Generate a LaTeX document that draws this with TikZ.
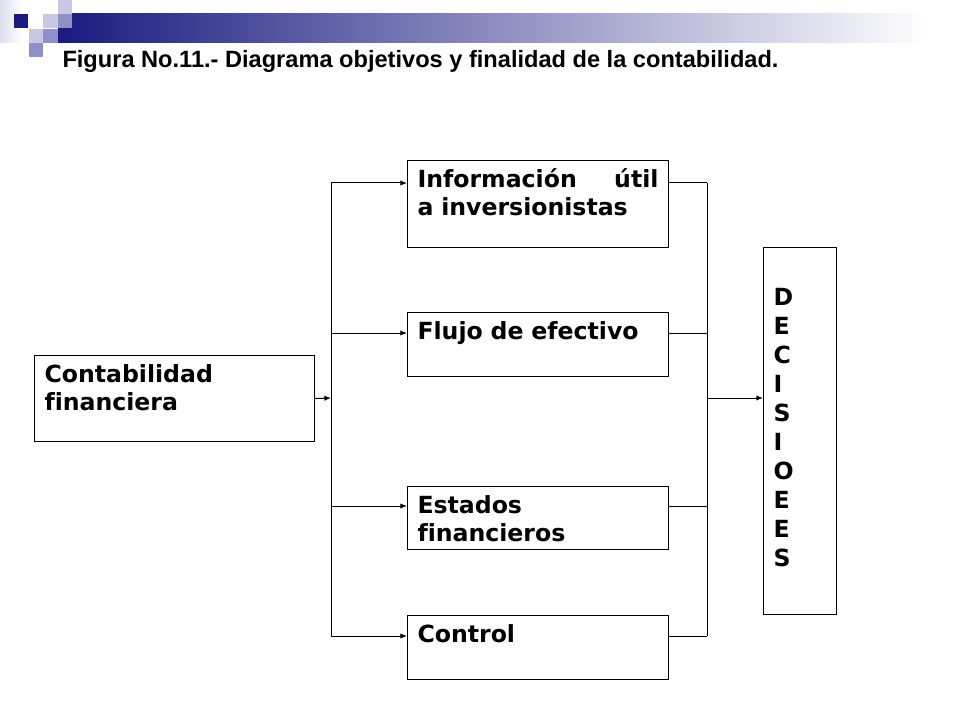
\documentclass[tikz,border=0pt]{standalone}
\usepackage{fontspec}
\usetikzlibrary{arrows.meta}
\newfontfamily\cajafont{DejaVu Sans}[Ligatures=NoCommon]
\newfontfamily\titulofont{Liberation Sans}
\definecolor{marino}{RGB}{26,26,128}
\definecolor{lavanda}{RGB}{200,200,230}
\definecolor{lavmedia}{RGB}{144,144,200}
\definecolor{palido}{RGB}{222,222,240}

\begin{document}
\begin{tikzpicture}[x=0.75pt,y=-0.75pt,line width=0.75pt,
	caja/.style 2 args={draw=black,rectangle,anchor=north west,align=left,text width=#1,text height=12.9pt,text depth=#2,inner xsep=7.5pt,inner ysep=7.5pt,font=\cajafont\bfseries\fontsize{17.7}{20.5}\selectfont},
	flecha/.style={-{Latex[length=5pt,width=4pt]}}]

	\fill[white] (0,0) rectangle (960,720);
	\useasboundingbox (0,0) rectangle (960,720);

	% cuadros de la esquina
	\shade[left color=palido,right color=white] (0,0) rectangle (22,43);
	\shade[left color=marino,right color=white] (58,14) rectangle (930,43);
	\fill[marino] (14,14) rectangle (28,28);
	\fill[lavanda] (43,14) rectangle (58,28);
	\fill[lavanda] (58,0) rectangle (72,14);
	\fill[lavmedia] (58,14) rectangle (72,28);
	\fill[lavanda] (29,29) rectangle (43,43);
	\fill[lavmedia] (43,29) rectangle (58,43);
	\fill[lavmedia] (29,43) rectangle (43,57);

	\node[anchor=base west,inner sep=0pt,font=\titulofont\bfseries\fontsize{17.7}{20}\selectfont] (titulo) at (62,68) {Figura No.11.- Diagrama objetivos y finalidad de la contabilidad.};

	\node[caja={195pt}{36.6pt}] (cont) at (34,355) {Contabilidad\\financiera};
	\node[caja={180.75pt}{37.35pt}] (inf) at (407,160) {Información \hfill útil\\a inversionistas};
	\node[caja={180.75pt}{20.1pt}] (flu) at (407,312) {Flujo de efectivo};
	\node[caja={180.75pt}{19.35pt}] (est) at (407,486) {Estados\\financieros};
	\node[caja={180.75pt}{20.1pt}] (con) at (407,615) {Control};
	\node[caja={39.75pt}{200.85pt},inner ysep=30.75pt,font=\cajafont\bfseries\fontsize{17.7}{21.75}\selectfont] (dec) at (763,247) {D\\E\\C\\I\\S\\I\\O\\E\\E\\S};

	\coordinate (bm) at (331,398);
	\coordinate (b1) at (331,183);
	\coordinate (b2) at (331,333);
	\coordinate (b3) at (331,506);
	\coordinate (b4) at (331,636);
	\coordinate (dm) at (707,398);
	\coordinate (d1) at (707,183);
	\coordinate (d2) at (707,333);
	\coordinate (d3) at (707,506);
	\coordinate (d4) at (707,636);

	\draw[flecha] (cont.east) -- (bm);
	\draw (b1) -- (b4);
	\foreach \i/\n in {1/inf,2/flu,3/est,4/con}{
		\draw[flecha] (b\i) -- (b\i -| \n.west);
		\draw (d\i -| \n.east) -- (d\i);
	}
	\draw (d1) -- (d4);
	\draw[flecha] (dm) -- (dm -| dec.west);
\end{tikzpicture}
\end{document}
